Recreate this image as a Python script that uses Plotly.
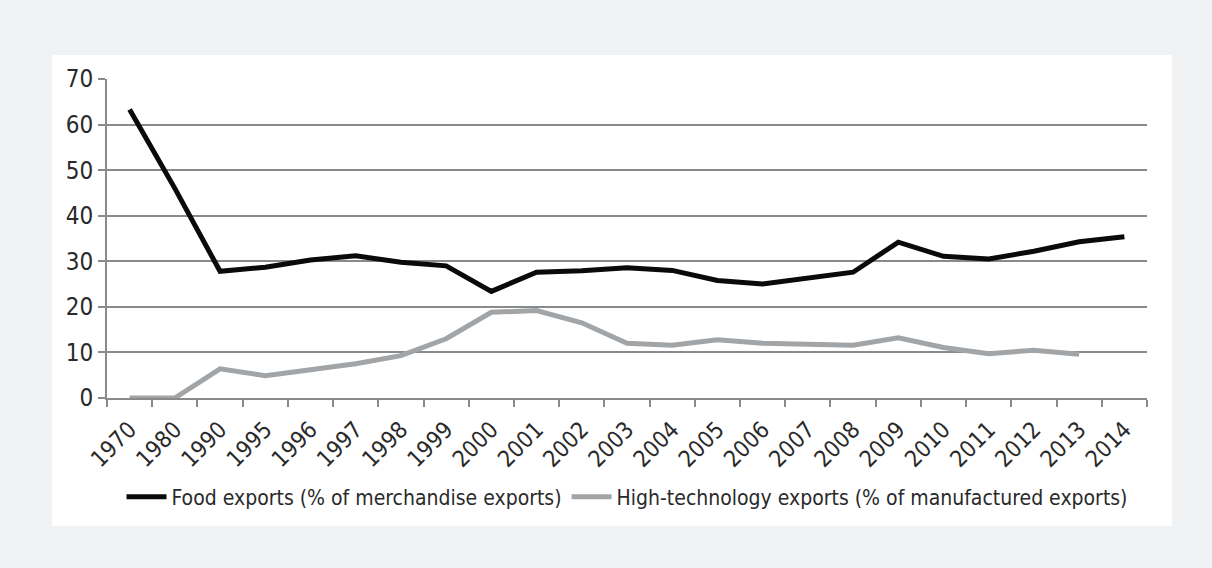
import plotly.graph_objects as go

years = ["1970", "1980", "1990", "1995", "1996", "1997", "1998", "1999", "2000",
         "2001", "2002", "2003", "2004", "2005", "2006", "2007", "2008", "2009",
         "2010", "2011", "2012", "2013", "2014"]

food_exports = [63.3, 46.0, 27.8, 28.7, 30.3, 31.2, 29.8, 29.0, 23.4,
                27.6, 27.9, 28.6, 28.0, 25.8, 25.0, 26.3, 27.6, 34.2,
                31.1, 30.5, 32.2, 34.3, 35.4]

hightech_exports = [0.0, 0.0, 6.4, 4.9, 6.2, 7.5, 9.3, 13.0, 18.8,
                    19.2, 16.5, 12.0, 11.6, 12.8, 12.0, 11.8, 11.6, 13.2,
                    11.1, 9.7, 10.5, 9.6, None]

FONT = "DejaVu Sans Condensed, Liberation Sans Narrow, Arial Narrow, sans-serif"

fig = go.Figure()
fig.add_trace(go.Scatter(
    x=years, y=food_exports, mode="lines",
    name="Food exports (% of merchandise exports)",
    line=dict(color="#0a0a0a", width=5),
))
fig.add_trace(go.Scatter(
    x=years, y=hightech_exports, mode="lines",
    name="High-technology exports (% of manufactured exports)",
    line=dict(color="#a2a5a7", width=5),
))

# plot area in pixels: x 107..1147, y 79..398
L, R, T, B = 107, 1147, 79, 398
W, H = R - L, B - T

def px(x):
    return (x - L) / W

def py(y):
    return (B - y) / H

fig.add_shape(type="rect", xref="paper", yref="paper",
              x0=px(52), x1=px(1172), y0=py(526), y1=py(55),
              fillcolor="white", line=dict(width=0), layer="below")

fig.update_layout(
    width=1212, height=568,
    margin=dict(l=L, r=1212 - R, t=T, b=568 - B),
    paper_bgcolor="#f1f2f4",
    plot_bgcolor="rgba(0,0,0,0)",
    font=dict(family=FONT, size=21, color="#2a2a2a"),
    showlegend=True,
    legend=dict(orientation="h", x=px(627), xanchor="center",
                y=py(497), yanchor="middle",
                font=dict(family=FONT, size=21, color="#2a2a2a"),
                bgcolor="rgba(0,0,0,0)", itemwidth=40, tracegroupgap=0),
)

fig.update_xaxes(
    type="category", range=[-0.5, len(years) - 0.5],
    showgrid=False, showline=True, linecolor="#8a8a8a",
    linewidth=2, ticks="outside", tickson="boundaries", ticklen=7,
    tickcolor="#8a8a8a", tickwidth=2, tickangle=-45, ticklabelstandoff=7,
    tickfont=dict(family=FONT, size=23, color="#2a2a2a"),
)
fig.update_yaxes(
    range=[0, 70], dtick=10, showgrid=True, gridcolor="#8a8a8a", gridwidth=1.5,
    showline=True, linecolor="#8a8a8a", linewidth=2, ticks="outside",
    ticklen=7, tickcolor="#8a8a8a", tickwidth=2, zeroline=False,
    tickfont=dict(family=FONT, size=24, color="#2a2a2a"),
)

fig.write_html("out.html")
